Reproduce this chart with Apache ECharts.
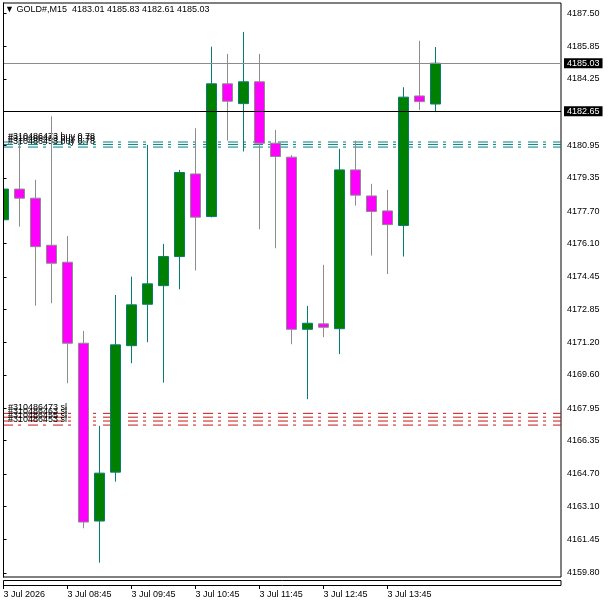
<!DOCTYPE html>
<html>
<head>
<meta charset="utf-8">
<title>GOLD#,M15</title>
<script src="https://cdn.jsdelivr.net/npm/echarts@6/dist/echarts.min.js"></script>
<style>
    html, body { margin: 0; padding: 0; background: #fff; }
    #main { width: 608px; height: 604px; }
</style>
</head>
<body>
<div id="main"></div>
<script>
// M15 bars, 3 Jul 2026
var times = ['07:45','08:00','08:15','08:30','08:45','09:00','09:15','09:30','09:45','10:00',
             '10:15','10:30','10:45','11:00','11:15','11:30','11:45','12:00','12:15','12:30',
             '12:45','13:00','13:15','13:30','13:45','14:00','14:15','14:30'];
var opens  = [4177.28,4178.80,4178.35,4176.02,4175.18,4171.17,4162.37,4164.79,4171.05,4173.10,
              4174.02,4175.46,4179.55,4177.44,4184.01,4183.03,4184.11,4181.07,4180.38,4171.86,
              4172.13,4171.89,4179.75,4178.46,4177.72,4177.00,4183.41,4183.01];
var closes = [4178.80,4178.35,4175.95,4175.13,4171.17,4162.32,4164.74,4171.09,4173.07,4174.11,
              4175.46,4179.62,4177.41,4184.01,4183.15,4184.11,4181.07,4180.41,4171.86,4172.16,
              4171.96,4179.75,4178.50,4177.69,4177.04,4183.35,4183.13,4185.03];
var lows   = [4174.50,4176.94,4173.03,4173.15,4169.19,4162.01,4160.31,4164.32,4170.18,4171.22,
              4169.22,4173.84,4174.77,4177.40,4181.20,4180.66,4176.81,4175.87,4171.12,4168.40,
              4171.47,4170.63,4177.98,4175.51,4174.60,4175.46,4182.72,4182.61];
var highs  = [4179.00,4181.09,4179.26,4182.40,4176.48,4171.78,4167.08,4173.56,4174.47,4180.99,
              4176.09,4179.75,4181.81,4185.85,4185.49,4186.58,4185.49,4181.73,4180.49,4173.02,
              4175.05,4180.79,4181.20,4179.06,4178.76,4183.84,4186.14,4185.83];

var priceTicks = [4159.80,4161.45,4163.10,4164.70,4166.35,4167.95,4169.60,4171.20,4172.85,
                  4174.45,4176.10,4177.70,4179.35,4180.95,4184.25,4185.85,4187.50];
var timeTickIdx  = [0, 4, 8, 12, 16, 20, 24];
var timeTickText = ['3 Jul 2026','3 Jul 08:45','3 Jul 09:45','3 Jul 10:45','3 Jul 11:45','3 Jul 12:45','3 Jul 13:45'];

var bidPrice = 4185.03;
var levelPrice = 4182.65;
var buyNames  = ['#310486473 buy 0.78','#310486463 buy 0.78','#310486453 buy 0.78'];
var buyPrices = [4181.13, 4181.01, 4180.88];
var slNames   = ['#310486473 sl','#310486463 sl','#310486455 sl','#310486453 sl'];
var slPrices  = [4167.70, 4167.51, 4167.32, 4167.12];

var FONT = '"Liberation Sans", Arial, sans-serif';
var X_MIN = -0.03125, X_MAX = -0.03125 + 558 / 16;

var candles = [];
for (var i = 0; i < times.length; i++) {
    candles.push([i, opens[i], closes[i], lows[i], highs[i]]);
}

// 订单线 (dash-dot) across the whole plot, under the candles
function orderLines(names, prices, color) {
    var list = [];
    for (var k = 0; k < prices.length; k++) {
        list.push({
            type: 'line',
            z: 1,
            silent: true,
            symbol: 'circle',
            symbolSize: 0.01,
            itemStyle: { color: color },
            lineStyle: { color: color, width: 1, type: [10, 5, 3, 7] },
            label: {
                show: true, position: [5, -1], align: 'left', verticalAlign: 'bottom',
                color: '#000', fontSize: 9, fontFamily: FONT,
                formatter: function (p) { return p.dataIndex === 0 ? p.seriesName : ''; }
            },
            name: names[k],
            data: [[X_MIN, prices[k]], [X_MAX, prices[k]]]
        });
    }
    return list;
}

var myChart = echarts.init(document.getElementById('main'));

var option = {
    animation: false,
    backgroundColor: '#fff',
    textStyle: { fontFamily: FONT },
    grid: {
        left: 3, top: 3, right: 47, bottom: 27,
        show: true, borderColor: '#000', borderWidth: 1, backgroundColor: '#fff'
    },
    xAxis: {
        type: 'value',
        min: X_MIN,
        max: X_MAX,
        offset: 8,
        axisLine: { show: false },
        splitLine: { show: false },
        axisTick: { show: true, length: 4, lineStyle: { color: '#000' }, customValues: timeTickIdx },
        axisLabel: {
            customValues: timeTickIdx,
            align: 'left', margin: 5, fontSize: 9, color: '#000', fontFamily: FONT,
            formatter: function (v) { return timeTickText[timeTickIdx.indexOf(Math.round(v))]; }
        }
    },
    yAxis: {
        type: 'value',
        position: 'right',
        min: 4159.60,
        max: 4188.01,
        scale: true,
        axisLine: { show: true, lineStyle: { color: '#000' } },
        splitLine: { show: false },
        axisTick: { show: true, length: 3, lineStyle: { color: '#000' }, customValues: priceTicks },
        axisLabel: {
            customValues: priceTicks,
            margin: 6, fontSize: 9, color: '#000', fontFamily: FONT,
            formatter: function (v) { return v.toFixed(2); }
        }
    },
    graphic: [
        {
            type: 'text', left: 5, top: 5,
            style: { text: '\u25BC GOLD#,M15  4183.01 4185.83 4182.61 4185.03', fill: '#000', fontSize: 9, fontFamily: FONT }
        },
        {
            // 左边裁掉半根K线
            type: 'rect', z: 100, shape: { x: 0, y: 0, width: 3, height: 580 },
            style: { fill: '#fff' }
        },
        {
            type: 'line', z: 101, shape: { x1: 3.5, y1: 3, x2: 3.5, y2: 577 },
            style: { stroke: '#000', lineWidth: 1 }
        },
        {
            type: 'rect', shape: { x: 3.5, y: 580.5, width: 557.5, height: 5 },
            style: { fill: 'none', stroke: '#000', lineWidth: 1 }
        }
    ],
    series: orderLines(buyNames, buyPrices, '#008080')
        .concat(orderLines(slNames, slPrices, '#c81414'))
        .concat([{
            type: 'candlestick',
            z: 2,
            barWidth: 10,
            data: candles,
            itemStyle: {
                color: '#008000',
                color0: '#ff00ff',
                borderColor: '#0a7c74',
                borderColor0: '#8c8c8c',
                borderWidth: 1
            },
            markLine: {
                silent: true,
                symbol: ['none', 'none'],
                precision: 2,
                label: {
                    show: true, position: 'end', distance: 3,
                    color: '#fff', backgroundColor: '#000', padding: [1, 3, 0, 3],
                    fontSize: 9, fontFamily: FONT
                },
                data: [
                    { yAxis: bidPrice, lineStyle: { color: '#8c8c8c', width: 1, type: 'solid' } },
                    { yAxis: levelPrice, lineStyle: { color: '#000', width: 1, type: 'solid' } }
                ]
            }
        }])
};

myChart.setOption(option);
</script>
</body>
</html>
